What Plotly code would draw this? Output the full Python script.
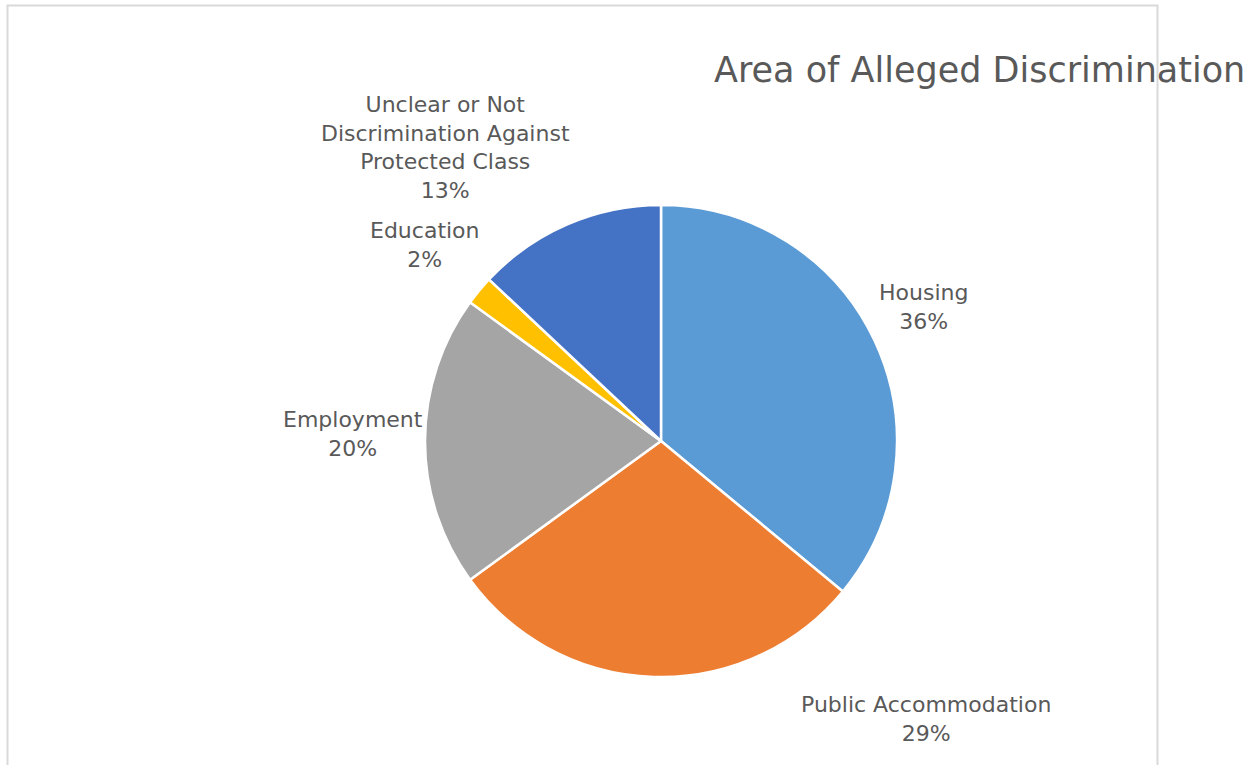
import plotly.graph_objects as go

W, H = 1255, 765

categories = ["Housing", "Public Accommodation", "Employment", "Education",
              "Unclear or Not<br>Discrimination Against<br>Protected Class"]
values = [36, 29, 20, 2, 13]
colors = ["#5B9BD5", "#ED7D31", "#A5A5A5", "#FFC000", "#4472C4"]
# label block centers (pixels) — layout positions
label_pos = [(923, 307), (926, 719), (353, 434), (425, 245), (445, 147)]

cx, cy, r = 661, 441, 236

fig = go.Figure(go.Pie(
    labels=categories, values=values, sort=False, direction="clockwise",
    rotation=0, textinfo="none", hoverinfo="label+percent",
    marker=dict(colors=colors, line=dict(color="white", width=2.5)),
    domain=dict(x=[(cx - r) / W, (cx + r) / W],
                y=[(H - cy - r) / H, (H - cy + r) / H]),
    showlegend=False,
))

total = sum(values)
annotations = []
for cat, v, (px, py) in zip(categories, values, label_pos):
    annotations.append(dict(
        x=px / W, y=1 - py / H, xref="paper", yref="paper",
        text=f"{cat}<br>{round(100 * v / total)}%", showarrow=False,
        xanchor="center", yanchor="middle", align="center",
        font=dict(family="DejaVu Sans", size=22, color="#595959"),
    ))
annotations.append(dict(
    x=712 / W, y=1 - 70 / H, xref="paper", yref="paper",
    text="Area of Alleged Discrimination", showarrow=False,
    xanchor="left", yanchor="middle",
    font=dict(family="DejaVu Sans", size=35, color="#595959"),
))

fig.update_layout(
    width=W, height=H, margin=dict(l=0, r=0, t=0, b=0),
    paper_bgcolor="white", plot_bgcolor="white",
    annotations=annotations,
    shapes=[dict(type="rect", xref="paper", yref="paper",
                 x0=7.5 / W, x1=1157.5 / W, y0=-0.1, y1=1 - 5.5 / H,
                 line=dict(color="#D9D9D9", width=2), layer="above")],
)

fig.write_html("out.html")
